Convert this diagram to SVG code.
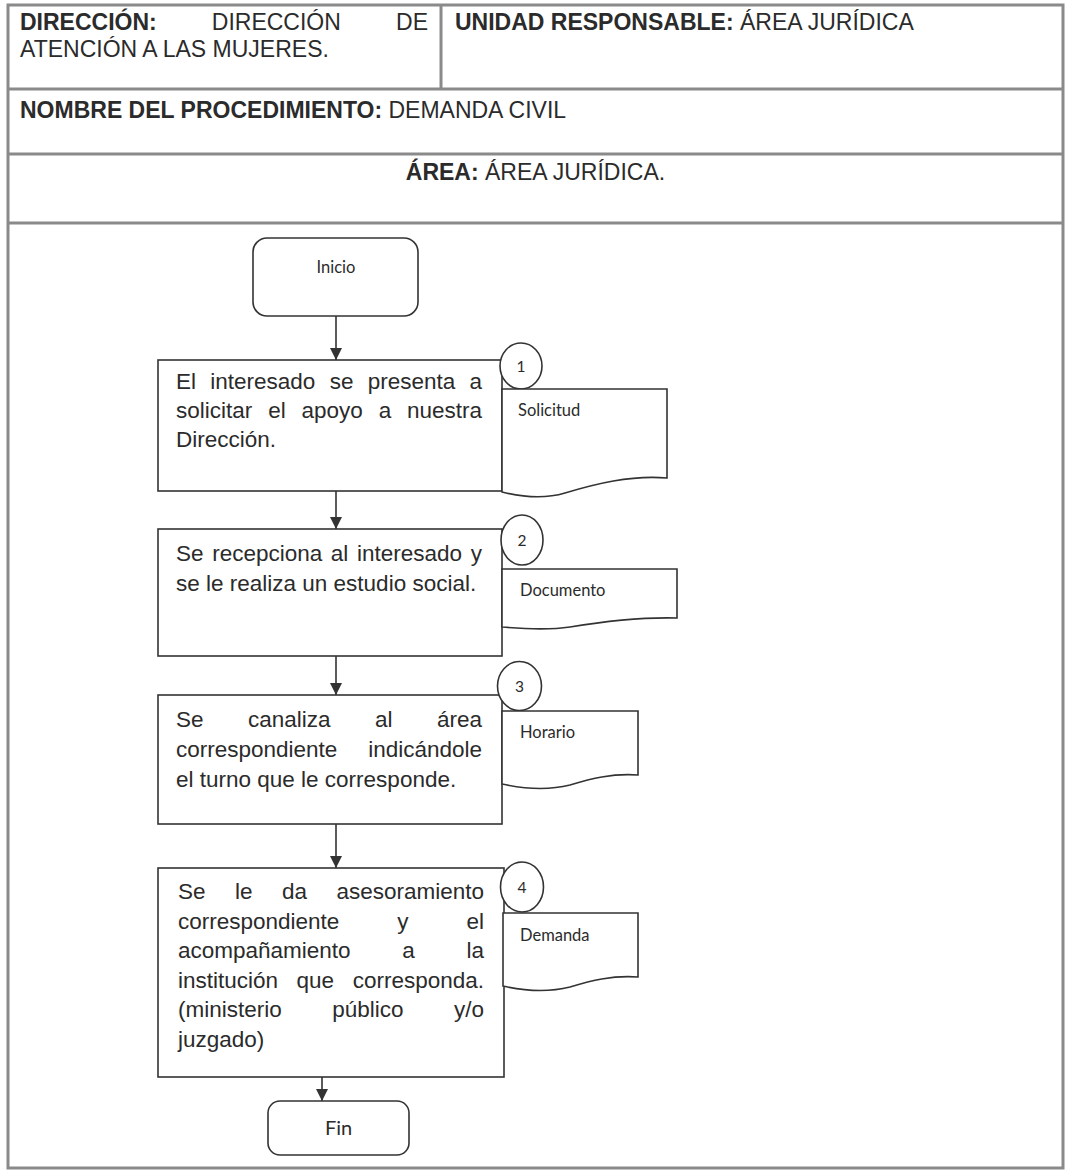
<svg xmlns="http://www.w3.org/2000/svg" width="1068" height="1172" viewBox="0 0 1068 1172">
<defs>
<style>
.frame{fill:none;stroke:#8a8a8a;stroke-width:3}
.shape{fill:#fff;stroke:#333;stroke-width:1.6}
.conn{stroke:#333;stroke-width:1.6;fill:none}
.hd{font-family:"Liberation Sans",Arial,sans-serif;font-size:23px;fill:#2b2b2b}
.b{font-weight:bold}
.tx{font-family:"Liberation Sans",Arial,sans-serif;font-size:22.5px;fill:#2b2b2b}
.sm{font-family:Lato,"Open Sans",sans-serif;font-size:16.5px;fill:#2b2b2b}
.num{font-family:Lato,"Open Sans",sans-serif;font-size:15.5px;fill:#2b2b2b}
</style>
<marker id="arr" viewBox="0 0 10 10" refX="10" refY="5" markerWidth="12" markerHeight="13" markerUnits="userSpaceOnUse" orient="auto">
<path d="M0,0 L10,5 L0,10 z" fill="#333"/>
</marker>
</defs>
<rect width="1068" height="1172" fill="#fff"/>

<g id="table">
<rect class="frame" x="8" y="5" width="1055" height="1163"/>
<line class="frame" x1="8" y1="89" x2="1063" y2="89"/>
<line class="frame" x1="8" y1="154" x2="1063" y2="154"/>
<line class="frame" x1="8" y1="223" x2="1063" y2="223"/>
<line class="frame" x1="441" y1="5" x2="441" y2="89"/>
<text class="hd"><tspan class="b" x="20" y="30">DIRECCIÓN:</tspan><tspan x="211.8" y="30">DIRECCIÓN</tspan><tspan x="396.1" y="30">DE</tspan></text>
<text class="hd" x="20" y="57">ATENCIÓN A LAS MUJERES.</text>
<text class="hd" x="455" y="30"><tspan class="b">UNIDAD RESPONSABLE:</tspan> ÁREA JURÍDICA</text>
<text class="hd" x="20" y="118"><tspan class="b">NOMBRE DEL PROCEDIMIENTO:</tspan> DEMANDA CIVIL</text>
<text class="hd" x="535.5" y="180" text-anchor="middle"><tspan class="b">ÁREA:</tspan> ÁREA JURÍDICA.</text>
</g>

<g id="connectors">
<line class="conn" x1="336" y1="316" x2="336" y2="360" marker-end="url(#arr)"/>
<line class="conn" x1="336" y1="491" x2="336" y2="529" marker-end="url(#arr)"/>
<line class="conn" x1="336" y1="656" x2="336" y2="695" marker-end="url(#arr)"/>
<line class="conn" x1="336" y1="824" x2="336" y2="868" marker-end="url(#arr)"/>
<line class="conn" x1="322" y1="1077" x2="322" y2="1101" marker-end="url(#arr)"/>
</g>

<g id="inicio">
<rect class="shape" x="253" y="238" width="165" height="78" rx="14"/>
<text class="sm" x="336" y="273" text-anchor="middle">Inicio</text>
</g>

<g id="paso1">
<rect class="shape" x="158" y="360" width="344" height="131"/>
<text class="tx"><tspan x="176" y="389">El</tspan><tspan x="210.3" y="389">interesado</tspan><tspan x="329.7" y="389">se</tspan><tspan x="367.8" y="389">presenta</tspan><tspan x="469.5" y="389">a</tspan></text>
<text class="tx"><tspan x="176" y="418">solicitar</tspan><tspan x="268.2" y="418">el</tspan><tspan x="301.5" y="418">apoyo</tspan><tspan x="378.7" y="418">a</tspan><tspan x="407" y="418">nuestra</tspan></text>
<text class="tx" x="176" y="447">Dirección.</text>
</g>
<g id="num1">
<ellipse class="shape" cx="521" cy="366" rx="21" ry="23"/>
<text class="num" x="521" y="371.5" text-anchor="middle">1</text>
</g>
<g id="doc1">
<path class="shape" d="M502,389 H667 V478 C630,475 595,484 565,493 C545,499 522,497 502,492 Z"/>
<text class="sm" x="518" y="416">Solicitud</text>
</g>

<g id="paso2">
<rect class="shape" x="158" y="529" width="344" height="127"/>
<text class="tx"><tspan x="176" y="561">Se</tspan><tspan x="212.2" y="561">recepciona</tspan><tspan x="330.8" y="561">al</tspan><tspan x="357" y="561">interesado</tspan><tspan x="470.8" y="561">y</tspan></text>
<text class="tx" x="176" y="591">se le realiza un estudio social.</text>
</g>
<g id="num2">
<ellipse class="shape" cx="522" cy="540" rx="21" ry="25"/>
<text class="num" x="522" y="545.5" text-anchor="middle">2</text>
</g>
<g id="doc2">
<path class="shape" d="M502,569 H677 V618 C640,617 600,622 570,627 C550,630 525,629 502,627 Z"/>
<text class="sm" x="520" y="596">Documento</text>
</g>

<g id="paso3">
<rect class="shape" x="158" y="695" width="344" height="129"/>
<text class="tx"><tspan x="176" y="727">Se</tspan><tspan x="248" y="727">canaliza</tspan><tspan x="375" y="727">al</tspan><tspan x="437" y="727">área</tspan></text>
<text class="tx"><tspan x="176" y="757">correspondiente</tspan><tspan x="368.2" y="757">indicándole</tspan></text>
<text class="tx" x="176" y="787">el turno que le corresponde.</text>
</g>
<g id="num3">
<ellipse class="shape" cx="519.5" cy="686" rx="22" ry="24.5"/>
<text class="num" x="519.5" y="691.5" text-anchor="middle">3</text>
</g>
<g id="doc3">
<path class="shape" d="M502,711 H638 V775 C612,773 590,779 570,785 C550,790 525,789 502,784 Z"/>
<text class="sm" x="520" y="738">Horario</text>
</g>

<g id="paso4">
<rect class="shape" x="158" y="868" width="346" height="209"/>
<text class="tx"><tspan x="178" y="899">Se</tspan><tspan x="235" y="899">le</tspan><tspan x="282" y="899">da</tspan><tspan x="336.4" y="899">asesoramiento</tspan></text>
<text class="tx"><tspan x="178" y="928.5">correspondiente</tspan><tspan x="397.2" y="928.5">y</tspan><tspan x="466.5" y="928.5">el</tspan></text>
<text class="tx"><tspan x="178" y="958">acompañamiento</tspan><tspan x="402.3" y="958">a</tspan><tspan x="466.5" y="958">la</tspan></text>
<text class="tx"><tspan x="178" y="987.5">institución</tspan><tspan x="296.6" y="987.5">que</tspan><tspan x="352.7" y="987.5">corresponda.</tspan></text>
<text class="tx"><tspan x="178" y="1017">(ministerio</tspan><tspan x="332.2" y="1017">público</tspan><tspan x="454" y="1017">y/o</tspan></text>
<text class="tx" x="178" y="1046.5">juzgado)</text>
</g>
<g id="num4">
<ellipse class="shape" cx="522" cy="887" rx="21.5" ry="25"/>
<text class="num" x="522" y="892.5" text-anchor="middle">4</text>
</g>
<g id="doc4">
<path class="shape" d="M503,913 H638 V977 C612,975 590,981 570,987 C550,992 525,991 503,986 Z"/>
<text class="sm" x="520" y="941">Demanda</text>
</g>

<g id="fin">
<rect class="shape" x="268" y="1101" width="141" height="54" rx="12"/>
<text x="338.5" y="1135" text-anchor="middle" style="font-family:Lato,'Open Sans',sans-serif;font-size:20px;fill:#2b2b2b">Fin</text>
</g>
</svg>
